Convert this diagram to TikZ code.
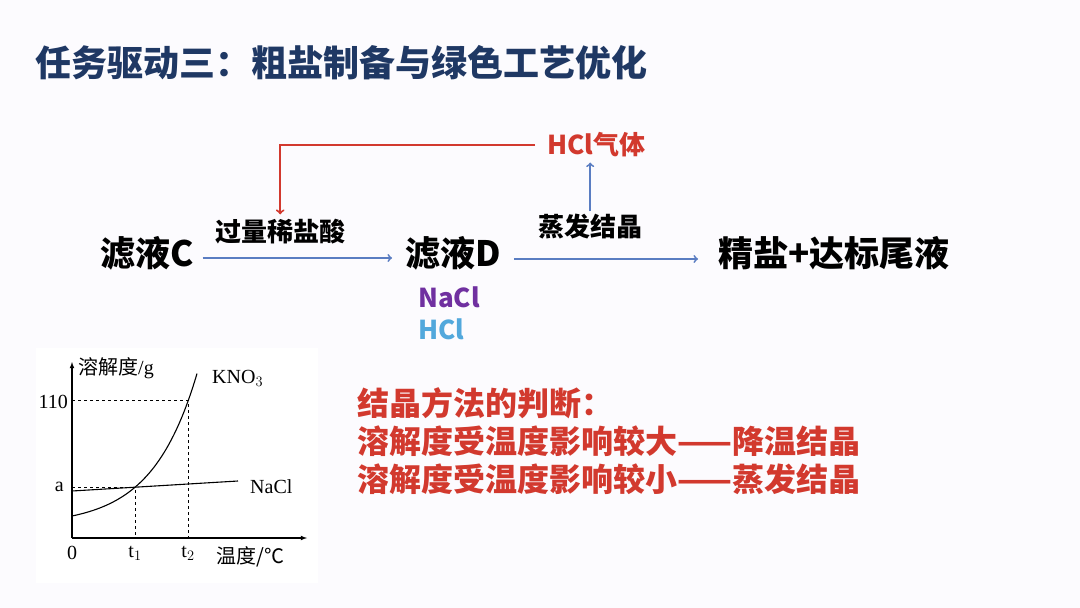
\documentclass[tikz,border=0pt]{standalone}
\usepackage{fontspec}
\setmainfont{Liberation Serif}
\newfontfamily\cjk{Noto Sans CJK SC}
\usetikzlibrary{arrows,calc}
\definecolor{pagebg}{HTML}{FCFBFE}
\definecolor{titleblue}{HTML}{1F3864}
\definecolor{flowblue}{HTML}{5A7DC2}
\definecolor{hclred}{HTML}{D2392E}
\definecolor{napurple}{HTML}{7030A0}
\definecolor{hclcyan}{HTML}{52A8DC}
\tikzset{
  title/.style={font=\cjk\bfseries\fontsize{36}{40}\selectfont,text=titleblue,inner sep=0pt},
  big/.style={font=\cjk\bfseries\fontsize{35}{40}\selectfont,inner sep=0pt},
  mid/.style={font=\cjk\bfseries\fontsize{26}{30}\selectfont,inner sep=0pt},
  rule/.style={font=\cjk\bfseries\fontsize{32}{36}\selectfont,text=hclred,inner sep=0pt},
  axis/.style={font=\fontsize{20}{24}\selectfont,inner sep=0pt},
  flow/.style={flowblue,line width=1.8pt},
}
\begin{document}
\begin{tikzpicture}[x=1pt,y=-1pt]
  \useasboundingbox (0,0) rectangle (1080,608);
  \fill[pagebg] (0,0) rectangle (1080,608);

  % 标题
  \node[title,anchor=west] (title) at (35,63) {任务驱动三：粗盐制备与绿色工艺优化};

  % 流程
  \node[big,anchor=west] (C) at (100,253) {滤液C};
  \node[big,anchor=west] (D) at (405,253) {滤液D};
  \node[big,anchor=west] (salt) at (718,253) {精盐+达标尾液};
  \node[mid,anchor=west] (acid) at (215,232) {过量稀盐酸};
  \node[mid,anchor=west] (evap) at (538,227) {蒸发结晶};
  \node[mid,anchor=west,text=hclred] (gas) at (547,145) {HCl气体};
  \node[mid,anchor=west,text=napurple] (na) at (418,297) {NaCl};
  \node[mid,anchor=west,text=hclcyan] (hcl) at (418,329) {HCl};
  \draw[flow,->] ([xshift=9pt,yshift=-5pt]C.east) -- ([xshift=-13pt,yshift=-5pt]D.west);
  \draw[flow,->] ([xshift=13pt,yshift=-6pt]D.east) -- ([xshift=-20pt,yshift=-6pt]salt.west);
  \draw[flow,->] ([yshift=3pt]evap.north) -- ([yshift=-5pt]evap.north |- gas.south);
  \draw[hclred,line width=2pt,->] ([xshift=-12pt]gas.west) -| ([yshift=5pt]acid.north);

  % 溶解度曲线
  \fill[white] (36,348) rectangle (318,583);
  \coordinate (O) at (72,538);
  \draw[line width=1.1pt,-latex] (O) -- (72,362);
  \draw[line width=1.1pt,-latex] (O) -- (307,538);
  \draw[dashed,line width=0.8pt] (72,400) -- (188,400) -- (188,538);
  \draw[dashed,line width=0.8pt] (72,487) -- (135,487) -- (135,538);
  \draw[line width=1.1pt] plot[domain=72:197,samples=50] (\x,{525.35-9.35*exp(0.0223*(\x-72))});
  \draw[line width=1.1pt] (72,491) -- (238,481);
  \node[axis,anchor=west] (ylab) at (78,368) {{\cjk 溶解度}/g};
  \node[axis,anchor=west] (xlab) at (216,557) {{\cjk 温度/℃}};
  \node[axis,anchor=west] (kno) at (212,378) {KNO$_3$};
  \node[axis,anchor=west] (nacl) at (250,487) {NaCl};
  \node[axis,anchor=east] (y110) at (68,402) {110};
  \node[axis,anchor=east] (ya) at (64,487) {a};
  \node[axis] (x0) at (72,553) {0};
  \node[axis] (xt1) at (135,553) {t$_1$};
  \node[axis] (xt2) at (188,553) {t$_2$};

  % 结晶方法
  \node[rule,anchor=west] (r1) at (357,403) {结晶方法的判断：};
  \node[rule,anchor=west] (r2) at (357,441) {溶解度受温度影响较大——降温结晶};
  \node[rule,anchor=west] (r3) at (357,479) {溶解度受温度影响较小——蒸发结晶};
\end{tikzpicture}
\end{document}
